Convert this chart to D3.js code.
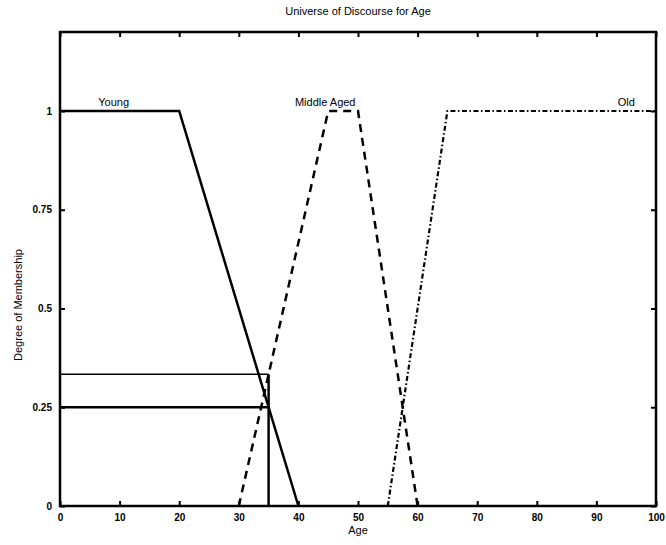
<!DOCTYPE html>
<html lang="en">
<head>
  <meta charset="UTF-8">
  <title>Universe of Discourse for Age</title>
  <script src="https://d3js.org/d3.v7.min.js"></script>
  <style>
    body { margin: 0; padding: 0; background: #fff; }
    text { font-family: "Liberation Sans", Arial, sans-serif; fill: #000; }
  </style>
</head>
<body>
<svg id="chart" width="666" height="545"></svg>
<script>
// Data
const ageTicks = [0, 10, 20, 30, 40, 50, 60, 70, 80, 90, 100];
const degreeTicks = [0, 0.25, 0.5, 0.75, 1];

const youngAge = [0, 20, 40];
const youngDegree = [1, 1, 0];
const middleAge = [30, 45, 50, 60];
const middleDegree = [0, 1, 1, 0];
const oldAge = [55, 65, 100];
const oldDegree = [0, 1, 1];

const sampleAge = 35;
const cutDegrees = [1 / 3, 0.25];

// Layout
const width = 666, height = 545;
const plotLeft = 60, plotRight = 656, plotTop = 32, plotBottom = 506;

const svg = d3.select("#chart");

const x = d3.scaleLinear().domain([0, 100]).range([plotLeft, plotRight]);
const y = d3.scaleLinear().domain([0, 1.2]).range([plotBottom, plotTop]);

// Frame with inward ticks on all four sides
svg.append("g")
  .attr("transform", `translate(0,${plotBottom})`)
  .call(d3.axisBottom(x).tickValues(ageTicks).tickSize(-5).tickPadding(8).tickFormat(d3.format("d")))
  .call(g => g.select(".domain").remove());
svg.append("g")
  .attr("transform", `translate(0,${plotTop})`)
  .call(d3.axisTop(x).tickValues(ageTicks).tickSize(-5).tickFormat(""))
  .call(g => g.select(".domain").remove());
svg.append("g")
  .attr("transform", `translate(${plotLeft},0)`)
  .call(d3.axisLeft(y).tickValues(degreeTicks).tickSize(-5).tickPadding(8).tickFormat(d => d))
  .call(g => g.select(".domain").remove());
svg.append("g")
  .attr("transform", `translate(${plotRight},0)`)
  .call(d3.axisRight(y).tickValues(degreeTicks).tickSize(-5).tickFormat(""))
  .call(g => g.select(".domain").remove());

svg.selectAll(".tick line").attr("stroke", "#000").attr("stroke-width", 2);
svg.selectAll(".tick text").attr("font-size", 10).attr("font-weight", "bold");

svg.append("rect")
  .attr("x", plotLeft).attr("y", plotTop)
  .attr("width", plotRight - plotLeft).attr("height", plotBottom - plotTop)
  .attr("fill", "none").attr("stroke", "#000").attr("stroke-width", 2.5);

// Membership curves
const line = d3.line().x(d => x(d[0])).y(d => y(d[1]));

function curve(ages, degrees, dash, w) {
  svg.append("path")
    .datum(d3.zip(ages, degrees))
    .attr("d", line)
    .attr("fill", "none")
    .attr("stroke", "#000")
    .attr("stroke-width", w)
    .attr("stroke-dasharray", dash);
}

curve(youngAge, youngDegree, null, 2.5);
curve(middleAge, middleDegree, "8,6", 2.5);
curve(oldAge, oldDegree, "5,2.5,1.5,2.5", 2.2);

// Cut lines at age 35
svg.append("line")
  .attr("x1", x(0)).attr("x2", x(sampleAge))
  .attr("y1", y(cutDegrees[0])).attr("y2", y(cutDegrees[0]))
  .attr("stroke", "#000").attr("stroke-width", 1.5);
svg.append("line")
  .attr("x1", x(0)).attr("x2", x(sampleAge))
  .attr("y1", y(cutDegrees[1])).attr("y2", y(cutDegrees[1]))
  .attr("stroke", "#000").attr("stroke-width", 2.5);
svg.append("line")
  .attr("x1", x(sampleAge)).attr("x2", x(sampleAge))
  .attr("y1", y(0)).attr("y2", y(cutDegrees[0]))
  .attr("stroke", "#000").attr("stroke-width", 2.5);

// Curve labels
const labels = [
  { text: "Young", age: 9 },
  { text: "Middle Aged", age: 44.5 },
  { text: "Old", age: 95 }
];
svg.selectAll(".curve-label")
  .data(labels)
  .enter().append("text")
  .attr("class", "curve-label")
  .attr("x", d => x(d.age))
  .attr("y", d => y(1) - 5)
  .attr("text-anchor", "middle")
  .attr("font-size", 11)
  .text(d => d.text);

// Title and axis labels
svg.append("text")
  .attr("x", (plotLeft + plotRight) / 2).attr("y", 15)
  .attr("text-anchor", "middle").attr("font-size", 11)
  .text("Universe of Discourse for Age");
svg.append("text")
  .attr("x", (plotLeft + plotRight) / 2).attr("y", 534)
  .attr("text-anchor", "middle").attr("font-size", 11)
  .text("Age");
svg.append("text")
  .attr("transform", `translate(22,305) rotate(-90)`)
  .attr("text-anchor", "middle").attr("font-size", 11)
  .text("Degree of Membership");
</script>
</body>
</html>
